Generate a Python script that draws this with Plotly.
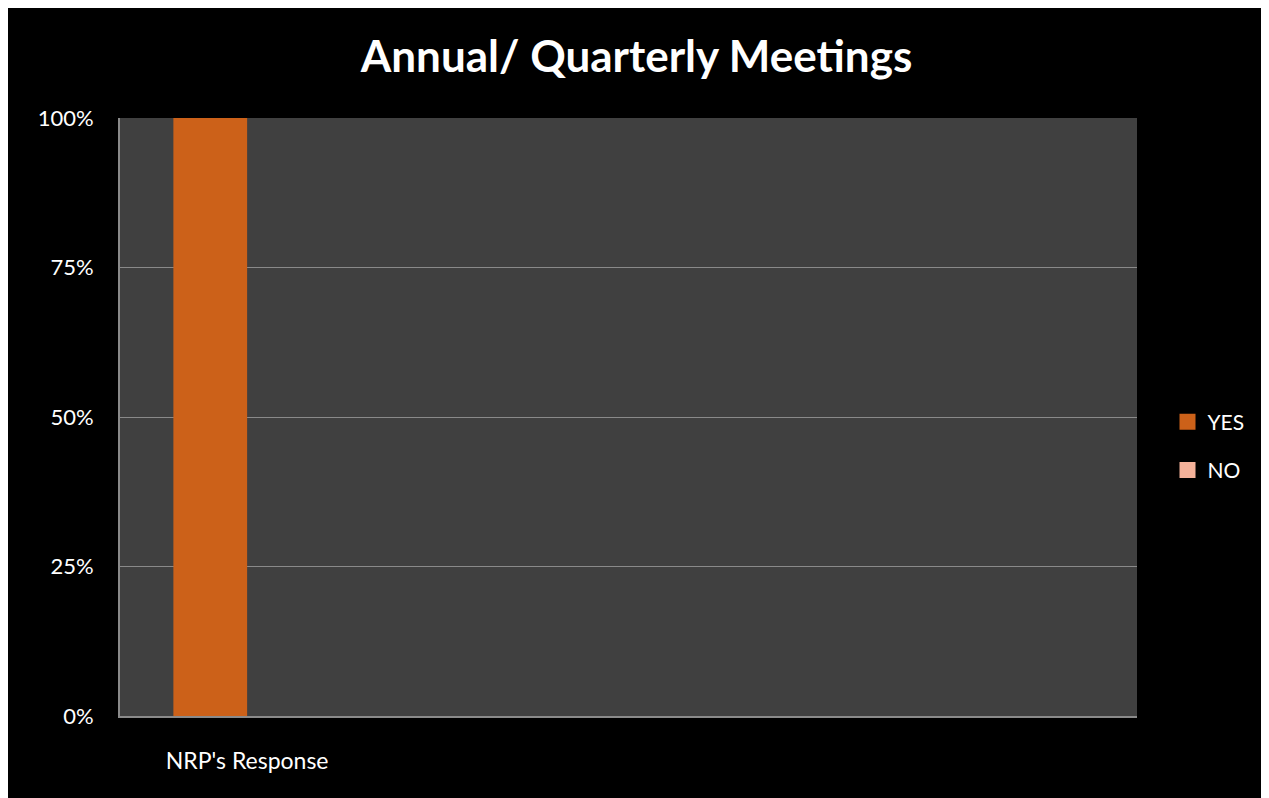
import plotly.graph_objects as go

categories = ["NRP's Response", "", "", ""]
yes_values = [100, None, None, None]
no_values = [0, None, None, None]
y_ticks = [0, 25, 50, 75, 100]
title_text = "Annual/ Quarterly Meetings"
series_names = ["YES", "NO"]
series_colors = ["#CC6119", "#F5B29A"]

# page body adds an 8px white margin at top/left; figure fills the rest
W, H = 1261, 790
ML, MR, MT, MB = 112, 132, 110, 82

positions = list(range(len(categories)))

fig = go.Figure()
for name, vals, col in zip(series_names, [yes_values, no_values], series_colors):
    fig.add_trace(go.Bar(x=positions, y=vals, name=name, marker_color=col,
                         marker_line_width=0, showlegend=False))
# legend entries with larger square swatches
for name, col in zip(series_names, series_colors):
    fig.add_trace(go.Scatter(x=[None], y=[None], mode="markers", name=name,
                             marker=dict(symbol="square", size=16, color=col),
                             legendgroup=name, showlegend=True))

fig.update_layout(
    width=W, height=H,
    margin=dict(l=ML, r=MR, t=MT, b=MB, pad=0),
    paper_bgcolor="black",
    plot_bgcolor="#404040",
    font=dict(family="Lato, 'Open Sans', sans-serif", color="white", size=18),
    title=dict(text="<b>" + title_text + "</b>", x=0.5 + 8 / 1017, xanchor="center", xref="paper",
               y=1 - 49 / H, yanchor="middle",
               font=dict(size=44, color="white", family="Lato, 'Open Sans', sans-serif")),
    barmode="group",
    bargap=0.42,
    bargroupgap=0,
    showlegend=True,
    legend=dict(x=1.030, xanchor="left", y=0.4515, yanchor="middle",
                font=dict(size=21, color="white"), bgcolor="rgba(0,0,0,0)",
                traceorder="grouped", tracegroupgap=18, itemclick=False,
                itemsizing="trace"),
    xaxis=dict(
        range=[-0.5, len(categories) - 0.5],
        tickmode="array", tickvals=positions, ticktext=categories,
        showgrid=False, zeroline=False,
        showline=True, linecolor="#8a8a8a", linewidth=2,
        ticks="", ticklabelstandoff=23,
        tickfont=dict(size=23, color="white"),
        fixedrange=True,
    ),
    yaxis=dict(
        range=[0, 100],
        tickmode="array", tickvals=y_ticks, ticktext=[f"{v}%" for v in y_ticks],
        showgrid=True, gridcolor="#8a8a8a", gridwidth=1,
        zeroline=False,
        showline=True, linecolor="#8a8a8a", linewidth=2,
        ticks="", ticklabelstandoff=20,
        tickfont=dict(size=22, color="white"),
        fixedrange=True,
    ),
)

fig.write_html("out.html")
